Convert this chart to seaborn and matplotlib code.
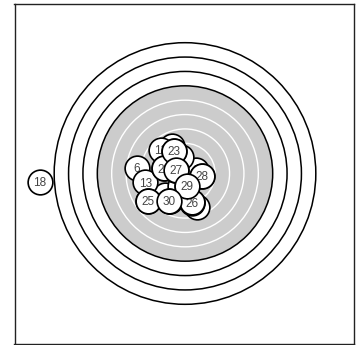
import matplotlib
matplotlib.use("Agg")
import matplotlib.pyplot as plt
from matplotlib.patches import Circle
import seaborn as sns
import pandas as pd

# ---- data (mm, target centre = 0,0) ----
shot_numbers = [18, 6, 12, 4, 7, 3, 5, 9, 8, 1, 2, 10, 11, 14, 15, 16, 17, 19, 20, 21, 24, 22, 23, 13, 25, 26, 27, 28, 29, 30]
shot_x = [-25.22, -8.40, -4.17, -2.26, -0.61, 1.91, -3.48, -0.87, 2.17, -2.65, 0.30, -1.60, 2.92, -3.60, -1.95, 0.40, -2.75, -1.70, 1.18, -6.45, 1.25, -3.65, -1.91, -6.87, -6.49, 1.22, -1.65, 2.96, 0.35, -2.70]
shot_y = [-1.43, 1.01, 4.17, 4.78, 2.87, 0.61, -3.74, -2.17, -5.83, -4.74, -2.05, 0.65, -0.40, 0.90, 3.93, -2.12, -4.82, 0.58, -5.00, -4.74, -5.08, 0.87, 3.97, -1.48, -4.78, -5.04, 0.61, -0.43, -2.09, -4.78]

ring_radii = [0.25, 2.75, 5.25, 7.75, 10.25, 12.75, 15.25, 17.75, 20.25, 22.75]
black_radius = 15.25
shot_radius = 2.15

df = pd.DataFrame({"n": shot_numbers, "x": shot_x, "y": shot_y}).sort_values("n")

W, H, DPI = 3.56, 3.45, 100
fig = plt.figure(figsize=(W, H), dpi=DPI)
sns.set_style("white")
plt.rcParams['font.family'] = ['Liberation Sans', 'DejaVu Sans']

ax_left, ax_right, ax_top, ax_bot = 14.5, 354.0, 4.0, 343.5
cx, cy, scale = 185.0, 173.5, 5.75
ax = fig.add_axes([ax_left / 356, (345 - ax_bot) / 345, (ax_right - ax_left) / 356, (ax_bot - ax_top) / 345])
ax.set_xlim((ax_left - cx) / scale, (ax_right - cx) / scale)
ax.set_ylim((cy - ax_bot) / scale, (cy - ax_top) / scale)
ax.set_xticks([])
ax.set_yticks([])
for sp in ax.spines.values():
    sp.set_visible(True)
    sp.set_color("#222222")
    sp.set_linewidth(1.0)

# target
ax.add_patch(Circle((0, 0), black_radius, facecolor="#cccccc", edgecolor="black", lw=1.1, zorder=1))
for r in ring_radii:
    if r < black_radius:
        ax.add_patch(Circle((0, 0), r, facecolor="none", edgecolor="white", lw=1.0, zorder=2))
    elif r > black_radius:
        ax.add_patch(Circle((0, 0), r, facecolor="none", edgecolor="black", lw=1.1, zorder=2))

# shots
px_per_unit = (ax_right - ax_left) / (ax.get_xlim()[1] - ax.get_xlim()[0])
diam_pt = 2 * shot_radius * px_per_unit * 72 / DPI
s = diam_pt ** 2
for i, row in enumerate(df.itertuples()):
    z = 10 + 2 * i
    sns.scatterplot(x=[row.x], y=[row.y], s=s, color="white", edgecolor="black",
                    linewidth=1.2, ax=ax, legend=False, zorder=z)
    ax.text(row.x, row.y, str(row.n), ha="center", va="center_baseline", fontsize=8.5,
            color="#444444", zorder=z + 1)

fig.savefig("out.png", dpi=DPI)
